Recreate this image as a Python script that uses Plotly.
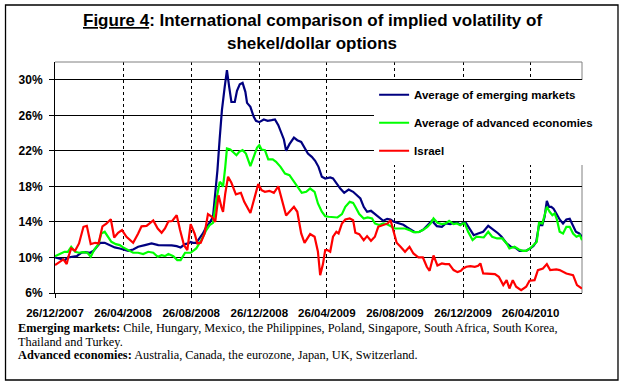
import pandas as pd
import plotly.graph_objects as go

START = "2007-12-26"
END = "2010-07-27"

# Average of emerging markets: days since START, implied volatility (%)
em_day = [0, 9, 18, 23, 30, 39, 47, 54, 63, 69, 75, 81, 89, 98, 107, 116, 122, 131, 140, 149,
          161, 173, 185, 197, 209, 218, 225, 233, 239, 243, 247, 253, 259, 265, 271, 277, 283, 286,
          291, 295, 299, 304, 308, 312, 316, 322, 326, 331, 336, 341, 344, 350, 356, 360, 366, 374,
          381, 388, 394, 400, 405, 410, 414, 420, 428, 434, 441, 447, 453, 460, 466, 472, 478, 484,
          493, 498, 504, 511, 518, 526, 534, 541, 547, 553, 559, 566, 572, 579, 588, 595, 601, 607,
          615, 624, 631, 637, 645, 653, 660, 669, 675, 684, 693, 700, 708, 715, 721, 726, 731, 736,
          742, 750, 758, 767, 776, 785, 794, 800, 809, 817, 825, 832, 844, 851, 857, 862, 867, 873,
          877, 881, 885, 889, 893, 898, 904, 910, 916, 922, 927, 933, 939, 944]
em_vol = [10.0, 9.89, 9.7, 10.0, 10.08, 10.15, 10.53, 10.6, 10.53, 10.75, 11.2, 11.65, 11.65, 11.39,
          11.13, 11.01, 10.9, 10.75, 10.9, 11.2, 11.39, 11.58, 11.39, 11.39, 11.35, 11.28, 11.13,
          11.5, 11.58, 11.75, 11.65, 11.65, 12.14, 12.7, 13.45, 13.9, 14.58, 16.45, 19.83, 23.39,
          26.58, 29.2, 31.08, 29.2, 27.5, 27.5, 28.75, 29.5, 29.65, 28.64, 27.4, 26.95, 25.83, 25.38,
          25.23, 25.53, 25.38, 25.45, 25.53, 24.89, 24.14, 23.28, 22.0, 22.75, 23.5, 23.2, 23.01,
          22.38, 21.7, 21.33, 20.88, 20.2, 19.08, 18.89, 19.0, 18.89, 18.33, 17.76, 17.28, 17.65,
          17.39, 17.01, 16.64, 15.7, 15.14, 15.25, 14.95, 14.5, 14.13, 14.35, 14.28, 14.01, 13.83,
          13.68, 13.38, 13.15, 12.85, 12.89, 13.15, 13.75, 14.13, 13.53, 13.45, 13.83, 13.75, 13.9,
          13.9, 13.68, 13.9, 13.9, 13.26, 12.51, 12.7, 12.89, 13.56, 13.15, 12.7, 12.33, 11.58, 11.2,
          11.09, 10.75, 10.75, 11.01, 11.28, 11.76, 13.64, 13.64, 14.58, 16.38, 15.7, 15.7, 15.48,
          14.95, 14.28, 13.83, 14.28, 14.35, 13.64, 12.89, 12.7, 12.33]

# Average of advanced economies
adv_day = [0, 9, 17, 23, 29, 36, 43, 51, 58, 64, 70, 78, 83, 89, 95, 101, 109, 116, 122, 131,
           140, 149, 158, 167, 176, 184, 191, 197, 203, 212, 219, 225, 233, 243, 253, 262, 271, 277,
           283, 289, 295, 298, 301, 305, 308, 314, 320, 325, 330, 336, 342, 350, 356, 362, 366, 370,
           376, 382, 390, 396, 404, 412, 420, 428, 435, 442, 450, 457, 465, 471, 478, 484, 490, 499,
           506, 514, 520, 528, 534, 538, 545, 553, 560, 568, 573, 581, 588, 594, 600, 609, 618, 627,
           635, 642, 651, 659, 667, 673, 678, 685, 693, 700, 706, 714, 720, 726, 731, 734, 740, 748,
           755, 762, 768, 776, 783, 792, 801, 809, 814, 823, 831, 838, 844, 851, 857, 863, 867, 873,
           877, 881, 886, 891, 895, 899, 904, 910, 916, 922, 928, 934, 940, 944]
adv_vol = [10.15, 10.45, 10.64, 10.64, 11.2, 10.64, 10.53, 10.6, 10.53, 10.08, 10.83, 11.5, 12.7,
           12.89, 12.33, 11.76, 11.5, 11.39, 11.13, 10.83, 10.53, 10.53, 10.38, 10.64, 10.53, 10.08,
           10.26, 10.15, 10.38, 10.15, 9.7, 9.7, 10.53, 10.53, 11.01, 11.95, 13.08, 13.64, 13.9,
           16.45, 18.51, 18.33, 17.95, 20.2, 22.26, 22.15, 21.78, 21.51, 21.89, 22.08, 21.7, 20.28,
           21.33, 22.38, 22.64, 22.15, 22.08, 21.03, 21.03, 20.76, 20.2, 19.45, 19.26, 18.51, 17.95,
           17.28, 17.39, 17.76, 17.39, 16.08, 15.14, 14.65, 14.58, 14.5, 14.5, 14.88, 15.7, 16.26,
           16.15, 15.7, 14.88, 14.39, 14.5, 14.39, 13.83, 13.64, 13.83, 13.75, 13.53, 13.26, 13.26,
           13.26, 13.08, 12.85, 12.85, 13.08, 13.45, 13.83, 14.39, 13.9, 13.75, 13.83, 14.13, 13.75,
           13.83, 13.64, 13.83, 13.83, 12.89, 11.95, 12.33, 12.33, 12.25, 12.89, 12.33, 12.14, 12.14,
           11.58, 11.01, 11.2, 10.9, 10.75, 10.75, 11.01, 11.39, 11.76, 13.9, 13.83, 14.76, 15.7,
           15.14, 14.76, 14.95, 14.28, 12.89, 12.7, 13.45, 13.45, 12.7, 12.33, 12.51, 11.95]

# Israel
isr_day = [0, 9, 15, 21, 24, 29, 36, 43, 51, 57, 64, 72, 78, 85, 92, 100, 106, 113, 120, 128,
           140, 149, 155, 164, 176, 184, 191, 197, 203, 210, 218, 224, 231, 237, 243, 250, 255, 261,
           268, 274, 281, 287, 293, 298, 301, 305, 310, 316, 324, 333, 339, 350, 357, 364, 370, 376,
           384, 392, 400, 406, 414, 420, 428, 434, 441, 447, 452, 457, 465, 471, 475, 480, 484, 488,
           493, 498, 504, 508, 514, 520, 528, 534, 538, 545, 553, 559, 566, 573, 579, 587, 596, 601,
           606, 612, 619, 627, 635, 642, 651, 659, 666, 671, 678, 685, 693, 699, 706, 714, 721, 727,
           731, 737, 744, 752, 758, 762, 767, 779, 788, 795, 803, 809, 814, 820, 826, 835, 844, 850,
           859, 865, 874, 881, 887, 898, 904, 916, 928, 935, 944]
isr_vol = [9.14, 9.51, 9.78, 9.25, 10.08, 11.01, 10.75, 11.58, 13.45, 13.56, 11.5, 11.65, 11.58,
           13.5, 13.8, 14.3, 12.25, 12.78, 13.08, 12.33, 11.65, 12.7, 13.5, 13.56, 14.16, 13.26,
           12.78, 13.26, 14.05, 14.1, 14.76, 13.1, 11.39, 10.83, 13.75, 12.7, 11.58, 11.65, 12.7,
           14.88, 14.58, 14.0, 17.0, 15.7, 15.14, 17.2, 19.08, 18.4, 17.1, 17.28, 16.26, 15.0, 16.64,
           18.25, 17.58, 17.39, 17.5, 17.28, 18.0, 16.45, 14.73, 15.14, 15.7, 15.14, 12.7, 11.65,
           12.14, 12.63, 12.33, 10.64, 8.01, 9.25, 10.83, 10.83, 10.64, 12.33, 12.89, 12.7, 13.83,
           14.28, 14.39, 14.2, 12.78, 12.63, 11.95, 12.4, 11.88, 12.33, 13.45, 13.64, 13.83, 14.2,
           13.08, 11.65, 11.2, 10.64, 11.2, 10.45, 10.0, 10.0, 8.95, 8.5, 10.23, 9.1, 9.33, 9.25,
           9.25, 8.58, 8.35, 8.5, 8.76, 8.95, 9.03, 8.95, 9.06, 9.33, 8.2, 8.2, 8.13, 7.83, 6.89,
           7.45, 6.51, 7.45, 6.7, 6.33, 6.7, 7.38, 7.45, 8.58, 8.76, 9.25, 8.58, 8.65, 8.58, 8.2,
           8.01, 6.89, 6.51]

series_names = ["Average of emerging markets", "Average of advanced economies", "Israel"]
series_colors = ["#000080", "#00FF00", "#FF0000"]

title_line1 = "<u>Figure 4</u>: International comparison of implied volatility of"
title_line2 = "shekel/dollar options"
note_lines = [
    "<b>Emerging markets:</b> Chile, Hungary, Mexico, the Philippines, Poland, Singapore, South Africa, South Korea,",
    "Thailand and Turkey.",
    "<b>Advanced economies:</b> Australia, Canada, the eurozone, Japan, UK, Switzerland.",
]

start = pd.Timestamp(START)


def to_dates(days):
    return start + pd.to_timedelta(days, unit="D")


fig = go.Figure()
for i, (d, v) in enumerate([(em_day, em_vol), (adv_day, adv_vol), (isr_day, isr_vol)]):
    fig.add_trace(go.Scatter(
        x=to_dates(d), y=v, mode="lines", name=series_names[i],
        legendgroup=f"g{i}",
        line=dict(color=series_colors[i], width=2.2),
    ))

SANS = "Liberation Sans, Arial, sans-serif"
SERIF = "Liberation Serif, Times New Roman, serif"

fig.update_layout(
    width=628, height=391,
    margin=dict(l=55, r=46, t=62, b=98, pad=0),
    paper_bgcolor="white", plot_bgcolor="white",
    showlegend=True,
    legend=dict(
        x=0.6055, y=0.921, xanchor="left", yanchor="top",
        bgcolor="white", borderwidth=0,
        font=dict(family=SANS, size=11.5, color="black", weight="bold"),
        itemwidth=30, tracegroupgap=9,
    ),
    xaxis=dict(
        type="date", range=[START, END],
        tick0=START, dtick="M4", tickformat="%d/%m/%Y",
        showline=True, linecolor="black", linewidth=1,
        ticks="outside", ticklen=4, tickcolor="black",
        showgrid=True, gridcolor="black", gridwidth=1, griddash="3px,3px",
        tickfont=dict(family=SANS, size=11.5, color="black", weight="bold"),
        ticklabelstandoff=5,
        zeroline=False,
    ),
    yaxis=dict(
        range=[6, 32], tick0=6, dtick=4, ticksuffix="%",
        showline=True, linecolor="black", linewidth=1,
        ticks="outside", ticklen=5, tickcolor="black",
        showgrid=True, gridcolor="black", gridwidth=1,
        tickfont=dict(family=SANS, size=12, color="black", weight="bold"),
        ticklabelstandoff=4,
        zeroline=False,
    ),
    shapes=[
        # gray top/right frame of the plot area
        dict(type="line", xref="paper", yref="paper", x0=0, x1=1, y0=1, y1=1,
             line=dict(color="#808080", width=1)),
        dict(type="line", xref="paper", yref="paper", x0=1, x1=1, y0=0, y1=1,
             line=dict(color="#808080", width=1), layer="below"),
        # outer chart border
        dict(type="rect", xref="paper", yref="paper",
             x0=-0.0939, x1=1.0683, y0=-0.3766, y1=1.2468,
             line=dict(color="black", width=1.3), fillcolor="rgba(0,0,0,0)"),
    ],
)

annotations = [
    dict(text=title_line1, x=0.4877, y=(293 - 21) / 231, xanchor="center", yanchor="middle",
         font=dict(family=SANS, size=17, color="black", weight="bold")),
    dict(text=title_line2, x=0.4877, y=(293 - 43) / 231, xanchor="center", yanchor="middle",
         font=dict(family=SANS, size=17, color="black", weight="bold")),
]
for txt, ypx in zip(note_lines, [328, 341.5, 355]):
    annotations.append(dict(text=txt, x=-0.074, y=(293 - ypx) / 231, xanchor="left",
                            yanchor="middle",
                            font=dict(family=SERIF, size=12.3, color="black")))
for a in annotations:
    a.update(xref="paper", yref="paper", showarrow=False)
fig.update_layout(annotations=annotations)

fig.write_html("out.html", config={"displayModeBar": False},
               post_script="document.body.style.margin='0';")
